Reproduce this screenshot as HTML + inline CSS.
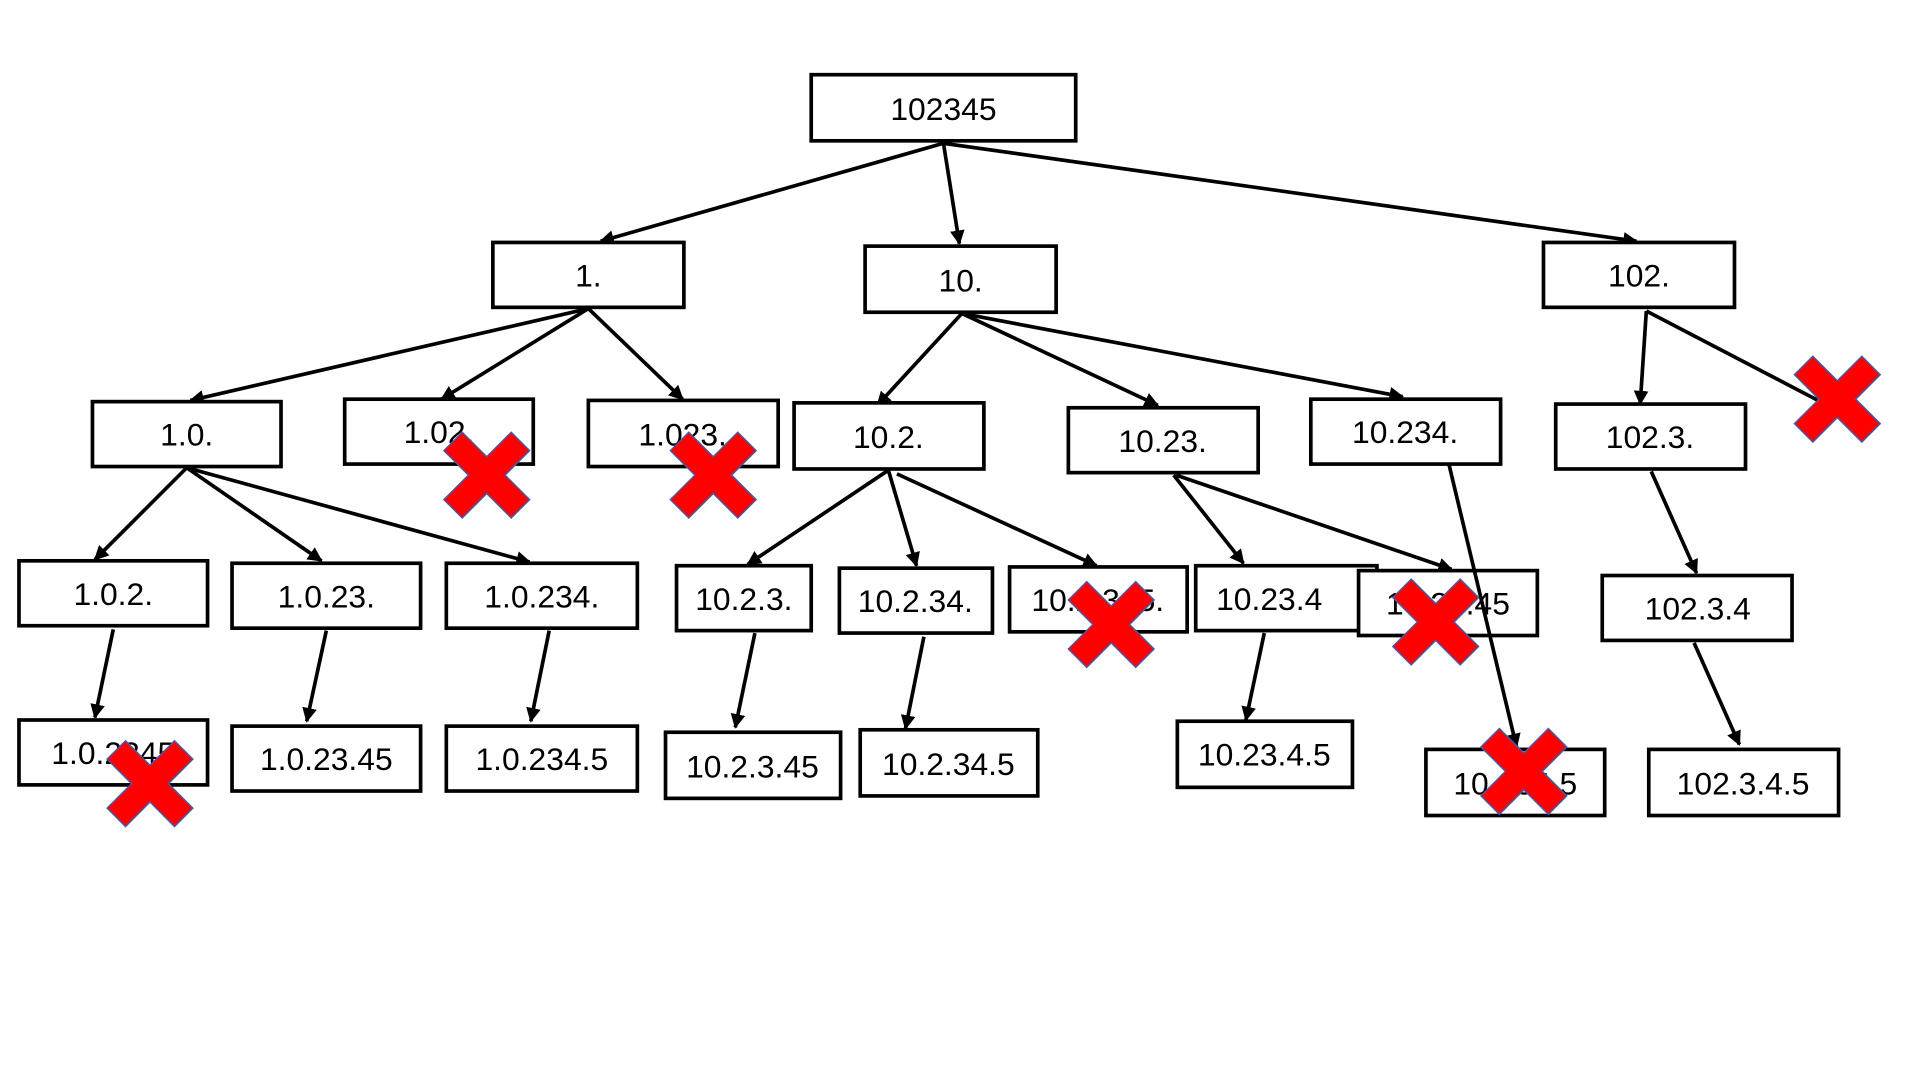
<!DOCTYPE html>
<html><head><meta charset="utf-8"><style>
html,body{margin:0;padding:0;background:#fff;width:1920px;height:1080px;overflow:hidden}
svg{display:block}
text{font-family:"Liberation Sans",sans-serif;font-size:26px;fill:#000;text-anchor:middle;dominant-baseline:central}
</style></head><body>
<svg width="1920" height="1080" viewBox="0 0 1567 882" xmlns="http://www.w3.org/2000/svg">
<defs>
<marker id="a" viewBox="0 0 10 10" refX="9" refY="5" markerWidth="4" markerHeight="4" orient="auto" markerUnits="strokeWidth"><path d="M0,0 L10,5 L0,10 z" fill="#000"/></marker>
<g id="x"><polygon points="-35,-20 -20,-35 0,-15 20,-35 35,-20 15,0 35,20 20,35 0,15 -20,35 -35,20 -15,0" fill="#f00" stroke="#4a5aa0" stroke-width="1.2"/></g>
</defs>
<g stroke="#000" stroke-width="3" fill="none" marker-end="url(#a)">
<line x1="770" y1="117" x2="490" y2="197"/>
<line x1="770" y1="117" x2="783" y2="199"/>
<line x1="770" y1="117" x2="1336" y2="197"/>
<line x1="480" y1="252" x2="155" y2="327"/>
<line x1="480" y1="252" x2="360" y2="326"/>
<line x1="480" y1="252" x2="557" y2="326"/>
<line x1="785" y1="256" x2="716" y2="331"/>
<line x1="785" y1="256" x2="945" y2="331"/>
<line x1="785" y1="256" x2="1145" y2="324"/>
<line x1="1344" y1="254" x2="1339" y2="330"/>
<line x1="152" y1="382" x2="77" y2="457"/>
<line x1="152" y1="382" x2="262" y2="458"/>
<line x1="152" y1="382" x2="432" y2="459"/>
<line x1="725" y1="384" x2="610" y2="461"/>
<line x1="725" y1="384" x2="748" y2="462"/>
<line x1="732" y1="387" x2="895" y2="462"/>
<line x1="958" y1="388" x2="1015" y2="460"/>
<line x1="960" y1="388" x2="1185" y2="465"/>
<line x1="1348" y1="385" x2="1385" y2="468"/>
<line x1="92" y1="514" x2="77" y2="586"/>
<line x1="266" y1="515" x2="250" y2="589"/>
<line x1="448" y1="515" x2="433" y2="589"/>
<line x1="616" y1="517" x2="600" y2="594"/>
<line x1="754" y1="520" x2="739" y2="595"/>
<line x1="1032" y1="517" x2="1017" y2="588"/>
<line x1="1383" y1="525" x2="1420" y2="608"/>
</g>
<line x1="1344" y1="254" x2="1490" y2="330" stroke="#000" stroke-width="3"/>
<g stroke="#000" stroke-width="3" fill="#fff">
<rect x="662" y="61" width="216" height="54"/>
<rect x="402" y="198" width="156" height="53"/>
<rect x="706" y="201" width="156" height="54"/>
<rect x="1260" y="198" width="156" height="53"/>
<rect x="75" y="328" width="154" height="53"/>
<rect x="281" y="326" width="154" height="53"/>
<rect x="480" y="327" width="155" height="54"/>
<rect x="648" y="329" width="155" height="54"/>
<rect x="872" y="333" width="155" height="53"/>
<rect x="1070" y="326" width="155" height="53"/>
<rect x="1270" y="330" width="155" height="53"/>
<rect x="15" y="458" width="154" height="53"/>
<rect x="189" y="460" width="154" height="53"/>
<rect x="364" y="460" width="156" height="53"/>
<rect x="552" y="462" width="110" height="53"/>
<rect x="685" y="464" width="125" height="53"/>
<rect x="824" y="463" width="145" height="53"/>
<rect x="976" y="462" width="148" height="53"/>
<rect x="1109" y="466" width="146" height="53"/>
<rect x="1308" y="470" width="155" height="53"/>
<rect x="15" y="588" width="154" height="53"/>
<rect x="189" y="593" width="154" height="53"/>
<rect x="364" y="593" width="156" height="53"/>
<rect x="543" y="598" width="143" height="54"/>
<rect x="702" y="596" width="145" height="54"/>
<rect x="961" y="589" width="143" height="54"/>
<rect x="1164" y="612" width="146" height="54"/>
<rect x="1346" y="612" width="155" height="54"/>
</g>
<text x="770" y="89">102345</text>
<text x="480" y="225">1.</text>
<text x="784" y="229">10.</text>
<text x="1338" y="225">102.</text>
<text x="152" y="355">1.0.</text>
<text x="358" y="353">1.02.</text>
<text x="557" y="355">1.023.</text>
<text x="725" y="357">10.2.</text>
<text x="949" y="360">10.23.</text>
<text x="1147" y="353">10.234.</text>
<text x="1347" y="357">102.3.</text>
<text x="92" y="485">1.0.2.</text>
<text x="266" y="487">1.0.23.</text>
<text x="442" y="487">1.0.234.</text>
<text x="607" y="489">10.2.3.</text>
<text x="747" y="491">10.2.34.</text>
<text x="896" y="490">10.2.345.</text>
<text x="1036" y="489">10.23.4</text>
<text x="1182" y="493">10.23.45</text>
<text x="1386" y="497">102.3.4</text>
<text x="92" y="615">1.0.2345</text>
<text x="266" y="620">1.0.23.45</text>
<text x="442" y="620">1.0.234.5</text>
<text x="614" y="626">10.2.3.45</text>
<text x="774" y="624">10.2.34.5</text>
<text x="1032" y="616">10.23.4.5</text>
<text x="1237" y="640">10.234.5</text>
<text x="1423" y="640">102.3.4.5</text>
<line x1="1183" y1="380" x2="1238" y2="610" stroke="#000" stroke-width="3" marker-end="url(#a)"/>
<use href="#x" x="397" y="388"/>
<use href="#x" x="582" y="388"/>
<use href="#x" x="122" y="640"/>
<use href="#x" x="1500" y="326"/>
<use href="#x" x="907" y="510"/>
<use href="#x" x="1172" y="508"/>
<use href="#x" x="1244" y="630"/>
</svg>
</body></html>
